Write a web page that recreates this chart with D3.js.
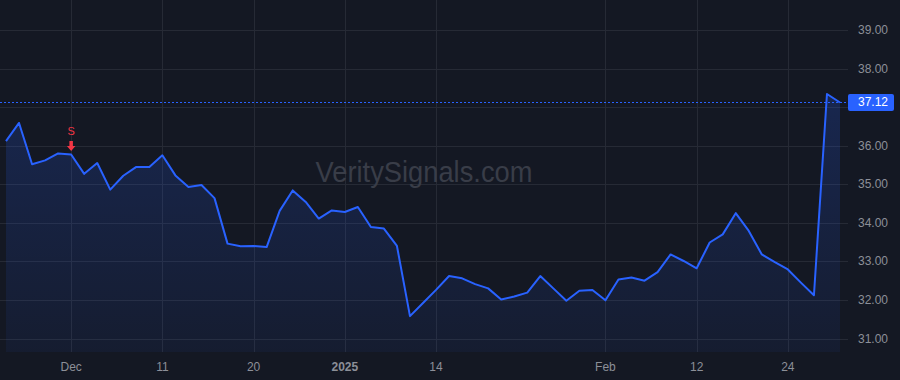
<!DOCTYPE html>
<html>
<head>
<meta charset="utf-8">
<script src="https://cdn.jsdelivr.net/npm/d3@7"></script>
<style>
  html, body { margin: 0; padding: 0; background: #141823; }
  svg { display: block; }
  text { font-family: "Liberation Sans", Arial, sans-serif; }
</style>
</head>
<body>
<div id="chart"></div>
<script>
var width = 900;
var height = 380;
var plot = { left: 0, right: 848, top: 0, bottom: 352 };

// trading days shown on the chart
var dates = [
  "2024-11-22", "2024-11-25", "2024-11-26", "2024-11-27", "2024-11-29",
  "2024-12-02", "2024-12-03", "2024-12-04", "2024-12-05", "2024-12-06",
  "2024-12-09", "2024-12-10", "2024-12-11", "2024-12-12", "2024-12-13",
  "2024-12-16", "2024-12-17", "2024-12-18", "2024-12-19", "2024-12-20",
  "2024-12-23", "2024-12-24", "2024-12-26", "2024-12-27", "2024-12-30",
  "2024-12-31", "2025-01-02", "2025-01-03", "2025-01-06", "2025-01-07",
  "2025-01-08", "2025-01-10", "2025-01-13", "2025-01-14", "2025-01-15",
  "2025-01-16", "2025-01-17", "2025-01-21", "2025-01-22", "2025-01-23",
  "2025-01-24", "2025-01-27", "2025-01-28", "2025-01-29", "2025-01-30",
  "2025-01-31", "2025-02-03", "2025-02-04", "2025-02-05", "2025-02-06",
  "2025-02-07", "2025-02-10", "2025-02-11", "2025-02-12", "2025-02-13",
  "2025-02-14", "2025-02-18", "2025-02-19", "2025-02-20", "2025-02-21",
  "2025-02-24", "2025-02-25", "2025-02-26", "2025-02-27", "2025-02-28"
];

var closes = [
  36.12, 36.59, 35.52, 35.62, 35.80,
  35.77, 35.27, 35.55, 34.86, 35.22,
  35.45, 35.45, 35.75, 35.23, 34.93,
  34.98, 34.64, 33.46, 33.39, 33.40,
  33.37, 34.31, 34.84, 34.54, 34.11,
  34.32, 34.28, 34.41, 33.89, 33.85,
  33.40, 31.58, 31.92, 32.26, 32.62,
  32.56, 32.41, 32.30, 32.01, 32.09,
  32.19, 32.62, 32.30, 31.98, 32.24,
  32.26, 31.99, 32.53, 32.58, 32.50,
  32.72, 33.18, 33.01, 32.82, 33.49,
  33.70, 34.25, 33.79, 33.18, 32.98,
  32.79, 32.45, 32.12, 37.34, 37.12
];

var yTicks = [31, 32, 33, 34, 35, 36, 37, 38, 39];
var xTickDates = ["2024-12-02", "2024-12-11", "2024-12-20", "2025-01-02", "2025-01-14", "2025-02-03", "2025-02-12", "2025-02-24"];
var xTickLabels = ["Dec", "11", "20", "2025", "14", "Feb", "12", "24"];

var signalDates = ["2024-12-02"];
var signalLabels = ["S"];
var lastPrice = 37.12;

var svg = d3.select("#chart").append("svg")
  .attr("width", width)
  .attr("height", height);

svg.append("rect")
  .attr("width", width).attr("height", height)
  .attr("fill", "#141823");

var xScale = d3.scalePoint().domain(dates).range([6, 840]);
var yScale = d3.scaleLinear().domain([31, 39]).range([338.5, 30]);

// gradient under the line
var defs = svg.append("defs");
var grad = defs.append("linearGradient")
  .attr("id", "areaGrad")
  .attr("x1", 0).attr("y1", 0).attr("x2", 0).attr("y2", 1);
grad.append("stop").attr("offset", "0%").attr("stop-color", "#2962ff").attr("stop-opacity", 0.2);
grad.append("stop").attr("offset", "100%").attr("stop-color", "#2962ff").attr("stop-opacity", 0.06);

// grid
svg.append("g")
  .selectAll("line")
  .data(yTicks)
  .enter()
  .append("line")
  .attr("x1", plot.left).attr("x2", plot.right)
  .attr("y1", function (d) { return Math.round(yScale(d)) + 0.5; })
  .attr("y2", function (d) { return Math.round(yScale(d)) + 0.5; })
  .attr("stroke", "#262a35");

svg.append("g")
  .selectAll("line")
  .data(xTickDates)
  .enter()
  .append("line")
  .attr("x1", function (d) { return Math.round(xScale(d)) + 0.5; })
  .attr("x2", function (d) { return Math.round(xScale(d)) + 0.5; })
  .attr("y1", plot.top).attr("y2", plot.bottom)
  .attr("stroke", "#262a35");

// watermark
svg.append("text")
  .attr("x", 424)
  .attr("y", 182)
  .attr("text-anchor", "middle")
  .attr("font-size", 29)
  .attr("textLength", 217)
  .attr("lengthAdjust", "spacingAndGlyphs")
  .attr("fill", "#393d48")
  .text("VeritySignals.com");

var series = dates.map(function (d, i) { return { date: d, value: closes[i] }; });

var area = d3.area()
  .x(function (d) { return xScale(d.date); })
  .y0(plot.bottom)
  .y1(function (d) { return yScale(d.value); });

svg.append("path")
  .datum(series)
  .attr("d", area)
  .attr("fill", "url(#areaGrad)");

// last price dashed line
svg.append("line")
  .attr("x1", plot.left).attr("x2", plot.right)
  .attr("y1", Math.round(yScale(lastPrice)) + 0.5)
  .attr("y2", Math.round(yScale(lastPrice)) + 0.5)
  .attr("stroke", "#2962ff")
  .attr("stroke-dasharray", "2,2");

var line = d3.line()
  .x(function (d) { return xScale(d.date); })
  .y(function (d) { return yScale(d.value); });

svg.append("path")
  .datum(series)
  .attr("d", line)
  .attr("fill", "none")
  .attr("stroke", "#2962ff")
  .attr("stroke-width", 2)
  .attr("stroke-linejoin", "round");

// sell signal markers
signalDates.forEach(function (d, i) {
  var px = xScale(d);
  var py = yScale(closes[dates.indexOf(d)]);
  svg.append("path")
    .attr("d", "M" + (px - 1.75) + "," + (py - 13.5) + "h3.5v5h2.5l-4.25,5l-4.25,-5h2.5z")
    .attr("fill", "#f23645");
  svg.append("text")
    .attr("x", px)
    .attr("y", py - 19.5)
    .attr("text-anchor", "middle")
    .attr("font-size", 11)
    .attr("fill", "#f23645")
    .text(signalLabels[i]);
});

// y axis labels on the right (the one under the price tag is hidden)
svg.append("g")
  .selectAll("text")
  .data(yTicks.filter(function (d) { return Math.abs(yScale(d) - yScale(lastPrice)) > 12; }))
  .enter()
  .append("text")
  .attr("x", 858)
  .attr("y", function (d) { return yScale(d) + 4; })
  .attr("font-size", 12)
  .attr("fill", "#8c8f98")
  .text(function (d) { return d.toFixed(2); });

// last price tag
svg.append("rect")
  .attr("x", 848)
  .attr("y", yScale(lastPrice) - 8.5)
  .attr("width", 46)
  .attr("height", 17)
  .attr("rx", 2)
  .attr("fill", "#2962ff");
svg.append("text")
  .attr("x", 858)
  .attr("y", yScale(lastPrice) + 4)
  .attr("font-size", 12)
  .attr("fill", "#ffffff")
  .text(lastPrice.toFixed(2));

// x axis labels
svg.append("g")
  .selectAll("text")
  .data(xTickDates)
  .enter()
  .append("text")
  .attr("x", function (d) { return xScale(d); })
  .attr("y", 371)
  .attr("text-anchor", "middle")
  .attr("font-size", 12)
  .attr("font-weight", function (d, i) { return xTickLabels[i] == "2025" ? "bold" : "normal"; })
  .attr("fill", "#8c8f98")
  .text(function (d, i) { return xTickLabels[i]; });
</script>
</body>
</html>
